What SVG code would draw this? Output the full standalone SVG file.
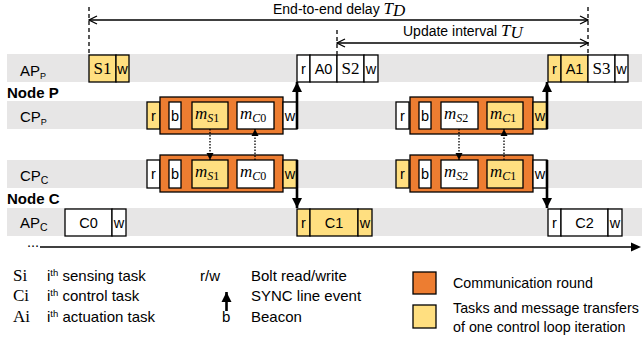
<svg xmlns="http://www.w3.org/2000/svg" width="642" height="346" viewBox="0 0 642 346">
  <style>
    .band { fill: #e7e6e6; }
    .box { stroke: #000; stroke-width: 1.3; }
    .y { fill: #ffdf80; }
    .wh { fill: #fff; }
    .or { fill: #ed7d31; stroke: #000; stroke-width: 1.3; }
    .t { font-family: "Liberation Sans", Arial, sans-serif; font-size: 14.5px; fill: #000; }
    .s { font-family: "Liberation Serif", "Times New Roman", serif; font-size: 17px; fill: #000; }
    .m { font-family: "Liberation Serif", "Times New Roman", serif; font-style: italic; font-size: 17px; fill: #000; }
    .lbl { font-family: "Liberation Sans", Arial, sans-serif; font-size: 14px; fill: #000; }
    .leg { font-family: "Liberation Sans", Arial, sans-serif; font-size: 15px; fill: #000; }
    .leg2 { font-family: "Liberation Sans", Arial, sans-serif; font-size: 14.3px; fill: #000; }
    .node { font-family: "Liberation Sans", Arial, sans-serif; font-size: 15px; font-weight: bold; fill: #000; }
    .dash { stroke: #000; stroke-width: 1.3; stroke-dasharray: 4 3; fill: none; }
    .sync { stroke: #000; stroke-width: 2.6; fill: none; }
    .dot { stroke: #000; stroke-width: 1.3; stroke-dasharray: 1.5 1.5; fill: none; }
    .span { stroke: #000; stroke-width: 1.3; fill: none; }
  </style>
  <defs>
    <marker id="open" viewBox="0 0 10 10" refX="9" refY="5" markerWidth="10" markerHeight="10" markerUnits="userSpaceOnUse" orient="auto-start-reverse">
      <path d="M1,1 L9,5 L1,9" fill="none" stroke="#000" stroke-width="1.3"/>
    </marker>
    <marker id="solid" viewBox="0 0 10 10" refX="10" refY="5" markerWidth="10" markerHeight="11" markerUnits="userSpaceOnUse" orient="auto">
      <path d="M0,0 L10,5 L0,10 Z" fill="#000"/>
    </marker>
    <marker id="small" viewBox="0 0 10 10" refX="10" refY="5" markerWidth="7" markerHeight="8" markerUnits="userSpaceOnUse" orient="auto">
      <path d="M0,0 L10,5 L0,10 Z" fill="#000"/>
    </marker>
  </defs>

  <!-- lane backgrounds -->
  <g id="lanes">
    <rect class="band" x="7" y="54" width="635" height="28"/>
    <rect class="band" x="7" y="101" width="635" height="28"/>
    <rect class="band" x="7" y="160" width="635" height="28"/>
    <rect class="band" x="7" y="208" width="635" height="28"/>
    <text class="leg" x="20" y="76">AP<tspan font-size="9" dy="3">P</tspan></text>
    <text class="node" x="7" y="98">Node P</text>
    <text class="leg" x="20" y="122">CP<tspan font-size="9" dy="3">P</tspan></text>
    <text class="leg" x="20" y="181">CP<tspan font-size="10.5" dy="3">C</tspan></text>
    <text class="node" x="7" y="204">Node C</text>
    <text class="leg" x="20" y="228">AP<tspan font-size="10.5" dy="3">C</tspan></text>
  </g>

  <!-- delay / interval spans -->
  <g id="spans">
    <line class="dash" x1="89" y1="7" x2="89" y2="54"/>
    <line class="dash" x1="588" y1="7" x2="588" y2="54"/>
    <line class="dash" x1="337" y1="30" x2="337" y2="54"/>
    <line class="span" x1="89" y1="20" x2="588" y2="20" marker-start="url(#open)" marker-end="url(#open)"/>
    <line class="span" x1="337" y1="43" x2="588" y2="43" marker-start="url(#open)" marker-end="url(#open)"/>
    <text class="lbl" x="273" y="14">End-to-end delay <tspan class="m" font-size="16">T</tspan><tspan class="m" font-size="11" dy="2">D</tspan></text>
    <text class="lbl" x="403" y="36">Update interval <tspan class="m" font-size="16">T</tspan><tspan class="m" font-size="11" dy="2">U</tspan></text>
  </g>

  <!-- AP of node P -->
  <g id="ap-p">
    <rect class="box y" x="89" y="55" width="27" height="27"/>
    <text class="s" x="102.5" y="74" text-anchor="middle">S1</text>
    <rect class="box y" x="116" y="55" width="13" height="27"/>
    <text class="t" x="122.5" y="74" text-anchor="middle">w</text>

    <rect class="box wh" x="297" y="55" width="13" height="27"/>
    <text class="t" x="303.5" y="74" text-anchor="middle">r</text>
    <rect class="box wh" x="310" y="55" width="27" height="27"/>
    <text class="t" x="323.5" y="74" text-anchor="middle">A0</text>
    <rect class="box wh" x="337" y="55" width="27" height="27"/>
    <text class="s" x="350.5" y="74" text-anchor="middle">S2</text>
    <rect class="box wh" x="364" y="55" width="14" height="27"/>
    <text class="t" x="371" y="74" text-anchor="middle">w</text>

    <rect class="box y" x="548" y="55" width="13" height="27"/>
    <text class="t" x="554.5" y="74" text-anchor="middle">r</text>
    <rect class="box y" x="561" y="55" width="27" height="27"/>
    <text class="t" x="574.5" y="74" text-anchor="middle">A1</text>
    <rect class="box wh" x="588" y="55" width="27" height="27"/>
    <text class="s" x="601.5" y="74" text-anchor="middle">S3</text>
    <rect class="box wh" x="615" y="55" width="13" height="27"/>
    <text class="t" x="621.5" y="74" text-anchor="middle">w</text>
  </g>

  <!-- CP of node P -->
  <g id="cp-p">
    <rect class="box y" x="147" y="102" width="13" height="27"/>
    <text class="t" x="153.5" y="121" text-anchor="middle">r</text>
    <rect class="or" x="160" y="97" width="123" height="37"/>
    <rect class="box wh" x="169" y="102" width="12" height="27"/>
    <text class="t" x="175" y="121" text-anchor="middle">b</text>
    <rect class="box y" x="192" y="102" width="36" height="27"/>
    <text class="m" x="195" y="119">m<tspan font-size="12" dy="3">S</tspan><tspan font-size="12" font-style="normal">1</tspan></text>
    <rect class="box wh" x="237" y="102" width="37" height="27"/>
    <text class="m" x="240" y="119">m<tspan font-size="12" dy="3">C</tspan><tspan font-size="12" font-style="normal">0</tspan></text>
    <rect class="box wh" x="283" y="102" width="14" height="27"/>
    <text class="t" x="290" y="121" text-anchor="middle">w</text>

    <rect class="box wh" x="396" y="102" width="13" height="27"/>
    <text class="t" x="402.5" y="121" text-anchor="middle">r</text>
    <rect class="or" x="410" y="97" width="123" height="37"/>
    <rect class="box wh" x="419" y="102" width="12" height="27"/>
    <text class="t" x="425" y="121" text-anchor="middle">b</text>
    <rect class="box wh" x="441" y="102" width="37" height="27"/>
    <text class="m" x="444" y="119">m<tspan font-size="12" dy="3">S</tspan><tspan font-size="12" font-style="normal">2</tspan></text>
    <rect class="box y" x="487" y="102" width="36" height="27"/>
    <text class="m" x="490" y="119">m<tspan font-size="12" dy="3">C</tspan><tspan font-size="12" font-style="normal">1</tspan></text>
    <rect class="box y" x="533" y="102" width="14" height="27"/>
    <text class="t" x="540" y="121" text-anchor="middle">w</text>
  </g>

  <!-- CP of node C -->
  <g id="cp-c">
    <rect class="box wh" x="147" y="160" width="13" height="28"/>
    <text class="t" x="153.5" y="179" text-anchor="middle">r</text>
    <rect class="or" x="160" y="155" width="123" height="37"/>
    <rect class="box wh" x="169" y="160" width="12" height="28"/>
    <text class="t" x="175" y="179" text-anchor="middle">b</text>
    <rect class="box y" x="192" y="160" width="36" height="28"/>
    <text class="m" x="195" y="177">m<tspan font-size="12" dy="3">S</tspan><tspan font-size="12" font-style="normal">1</tspan></text>
    <rect class="box wh" x="237" y="160" width="37" height="28"/>
    <text class="m" x="240" y="177">m<tspan font-size="12" dy="3">C</tspan><tspan font-size="12" font-style="normal">0</tspan></text>
    <rect class="box y" x="283" y="160" width="14" height="28"/>
    <text class="t" x="290" y="179" text-anchor="middle">w</text>

    <rect class="box y" x="396" y="160" width="13" height="28"/>
    <text class="t" x="402.5" y="179" text-anchor="middle">r</text>
    <rect class="or" x="410" y="155" width="123" height="37"/>
    <rect class="box wh" x="419" y="160" width="12" height="28"/>
    <text class="t" x="425" y="179" text-anchor="middle">b</text>
    <rect class="box wh" x="441" y="160" width="37" height="28"/>
    <text class="m" x="444" y="177">m<tspan font-size="12" dy="3">S</tspan><tspan font-size="12" font-style="normal">2</tspan></text>
    <rect class="box y" x="487" y="160" width="36" height="28"/>
    <text class="m" x="490" y="177">m<tspan font-size="12" dy="3">C</tspan><tspan font-size="12" font-style="normal">1</tspan></text>
    <rect class="box wh" x="533" y="160" width="14" height="28"/>
    <text class="t" x="540" y="179" text-anchor="middle">w</text>
  </g>

  <!-- AP of node C -->
  <g id="ap-c">
    <rect class="box wh" x="65" y="209" width="47" height="27"/>
    <text class="t" x="88.5" y="228" text-anchor="middle">C0</text>
    <rect class="box wh" x="112" y="209" width="14" height="27"/>
    <text class="t" x="119" y="228" text-anchor="middle">w</text>

    <rect class="box y" x="297" y="209" width="13" height="27"/>
    <text class="t" x="303.5" y="228" text-anchor="middle">r</text>
    <rect class="box y" x="310" y="209" width="48" height="27"/>
    <text class="t" x="334" y="228" text-anchor="middle">C1</text>
    <rect class="box y" x="358" y="209" width="14" height="27"/>
    <text class="t" x="365" y="228" text-anchor="middle">w</text>

    <rect class="box wh" x="548" y="209" width="13" height="27"/>
    <text class="t" x="554.5" y="228" text-anchor="middle">r</text>
    <rect class="box wh" x="561" y="209" width="47" height="27"/>
    <text class="t" x="584.5" y="228" text-anchor="middle">C2</text>
    <rect class="box wh" x="608" y="209" width="14" height="27"/>
    <text class="t" x="615" y="228" text-anchor="middle">w</text>
  </g>

  <!-- connectors: SYNC events and message transfers -->
  <g id="connectors">
    <line class="sync" x1="297" y1="129" x2="297" y2="82" marker-end="url(#solid)"/>
    <line class="sync" x1="297" y1="160" x2="297" y2="208" marker-end="url(#solid)"/>
    <line class="sync" x1="547" y1="129" x2="547" y2="82" marker-end="url(#solid)"/>
    <line class="sync" x1="547" y1="160" x2="547" y2="208" marker-end="url(#solid)"/>
    <line class="dot" x1="210" y1="129" x2="210" y2="160" marker-end="url(#small)"/>
    <line class="dot" x1="255" y1="160" x2="255" y2="129" marker-end="url(#small)"/>
    <line class="dot" x1="459" y1="129" x2="459" y2="160" marker-end="url(#small)"/>
    <line class="dot" x1="504" y1="160" x2="504" y2="129" marker-end="url(#small)"/>
  </g>

  <!-- time axis -->
  <g id="axis">
    <text class="t" x="27" y="247">...</text>
    <line x1="40" y1="247" x2="633" y2="247" stroke="#000" stroke-width="1.4"/>
    <path d="M631,242.5 L641,247 L631,251.5 Z" fill="#000"/>
  </g>

  <!-- legend -->
  <g id="legend">
    <text class="s" x="13" y="281">Si</text>
    <text class="s" x="13" y="301">Ci</text>
    <text class="s" x="13" y="322">Ai</text>
    <text class="leg" x="47" y="281">i<tspan font-size="9.5" dy="-5">th</tspan><tspan dy="5"> sensing task</tspan></text>
    <text class="leg" x="47" y="301">i<tspan font-size="9.5" dy="-5">th</tspan><tspan dy="5"> control task</tspan></text>
    <text class="leg" x="47" y="322">i<tspan font-size="9.5" dy="-5">th</tspan><tspan dy="5"> actuation task</tspan></text>
    <text class="leg" x="200" y="281">r/w</text>
    <line class="sync" x1="226.5" y1="311" x2="226.5" y2="292" marker-end="url(#solid)"/>
    <text class="leg" x="222" y="322">b</text>
    <text class="leg" x="251" y="281">Bolt read/write</text>
    <text class="leg" x="251" y="301">SYNC line event</text>
    <text class="leg" x="251" y="322">Beacon</text>
    <rect class="or" x="413" y="272" width="23" height="22"/>
    <rect class="box y" x="413" y="305" width="23" height="23"/>
    <text class="leg2" x="453" y="288">Communication round</text>
    <text class="leg2" x="453" y="313">Tasks and message transfers</text>
    <text class="leg2" x="453" y="332">of one control loop iteration</text>
  </g>
</svg>
